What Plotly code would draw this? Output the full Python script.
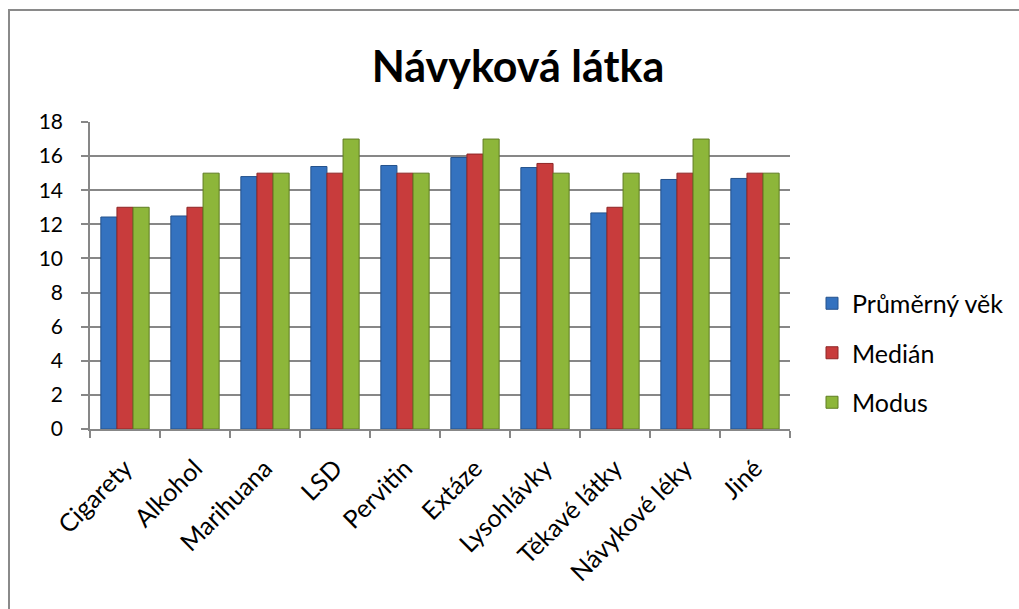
import plotly.graph_objects as go

categories = ["Cigarety", "Alkohol", "Marihuana", "LSD", "Pervitin", "Extáze",
              "Lysohlávky", "Těkavé látky", "Návykové léky", "Jiné"]
prumerny_vek = [12.43, 12.49, 14.8, 15.39, 15.45, 15.92, 15.33, 12.67, 14.63, 14.69]
median = [13, 13, 15, 15, 15, 16.12, 15.57, 13, 15, 15]
modus = [13, 15, 15, 17, 15, 17, 15, 15, 17, 15]
y_ticks = [0, 2, 4, 6, 8, 10, 12, 14, 16, 18]

series = [
    ("Průměrný věk", prumerny_vek, "#3472bf", "#24528c"),
    ("Medián", median, "#c83c3c", "#8e2626"),
    ("Modus", modus, "#8db63a", "#5f7d22"),
]

FONT = "Lato, 'Open Sans', 'Noto Sans', sans-serif"

# plot area in pixels (for the decorative outer border)
L, R, T, B = 90, 790, 122, 429
PW, PH = R - L, B - T

fig = go.Figure()
for i, (name, vals, col, edge) in enumerate(series):
    fig.add_trace(go.Bar(
        x=categories, y=vals, name=name, legendgroup=f"g{i}",
        marker=dict(color=col, line=dict(color=edge, width=1)),
    ))

fig.update_layout(
    width=1019, height=609,
    paper_bgcolor="white", plot_bgcolor="white",
    barmode="group", bargap=0.31, bargroupgap=0,
    margin=dict(l=L, r=1019 - R, t=T, b=609 - B, autoexpand=False),
    font=dict(family=FONT, size=21, color="black"),
    title=dict(text="<b>Návyková látka</b>", x=518 / 1019, xanchor="center",
               y=1 - 67 / 609, yanchor="middle",
               font=dict(family=FONT, size=43, color="black")),
    legend=dict(x=(812 - L) / PW, xanchor="left", y=(B - 353) / PH, yanchor="middle",
                font=dict(size=25), tracegroupgap=14, traceorder="grouped",
                itemwidth=30),
    showlegend=True,
    shapes=[dict(type="rect", xref="paper", yref="paper",
                 x0=(9 - L) / PW, x1=(1040 - L) / PW,
                 y0=(B - 640) / PH, y1=1 + (T - 10) / PH,
                 line=dict(color="#8a8a8a", width=2), layer="below")],
)
fig.update_xaxes(
    type="category", tickangle=-45, tickson="boundaries", automargin=False,
    ticks="outside", ticklen=7, tickcolor="#878787", tickwidth=1.5,
    showline=True, linecolor="#878787", linewidth=1.5,
    tickfont=dict(size=25), showgrid=False, ticklabelstandoff=13,
)
fig.update_yaxes(
    range=[0, 18], tickvals=y_ticks, ticks="outside", ticklen=7, automargin=False,
    tickcolor="#878787", tickwidth=1.5,
    showline=True, linecolor="#878787", linewidth=1.5,
    showgrid=True, gridcolor="#878787", gridwidth=1.5,
    zeroline=False, tickfont=dict(size=21), ticklabelstandoff=14,
)

fig.write_html("out.html", config={"displayModeBar": False},
               post_script="document.body.style.margin='0';")
